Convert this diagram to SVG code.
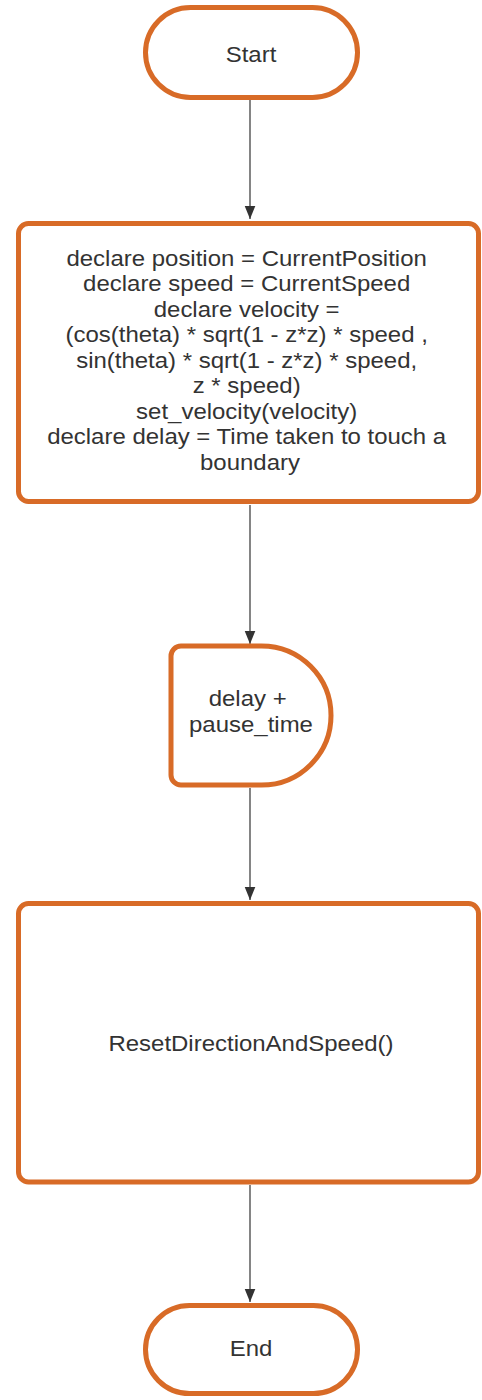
<svg xmlns="http://www.w3.org/2000/svg" width="482" height="1400" viewBox="0 0 482 1400">
  <style>
    .shape { fill: #ffffff; stroke: #d86b27; stroke-width: 5; }
    .label { font-family: "Liberation Sans", Arial, sans-serif; font-size: 22px; fill: #333333; text-anchor: middle; }
    .flow { stroke: #333333; stroke-width: 1.2; fill: none; marker-end: url(#arrow); }
  </style>
  <defs>
    <!-- filled arrowhead, tip at the line end -->
    <marker id="arrow" markerUnits="userSpaceOnUse" markerWidth="13" markerHeight="17" refX="16" refY="6.5" orient="auto" viewBox="0 0 16 13">
      <path d="M0,0 L16,6.5 L0,13 Z" fill="#333333"/>
    </marker>
  </defs>
  <rect width="482" height="1400" fill="#ffffff"/>

  <!-- connectors -->
  <g id="connectors">
    <line class="flow" x1="250" y1="100" x2="250" y2="219"/>
    <line class="flow" x1="250" y1="505" x2="250" y2="644"/>
    <line class="flow" x1="250" y1="788" x2="250" y2="900"/>
    <line class="flow" x1="250" y1="1185" x2="250" y2="1302"/>
  </g>

  <!-- terminal: Start -->
  <g id="start">
    <rect class="shape" x="145.5" y="7.5" width="212" height="90" rx="45" ry="45"/>
    <text class="label" transform="translate(251,0) scale(1.09,1) translate(-251,0)" x="251" y="62">Start</text>
  </g>

  <!-- process: compute velocity and delay -->
  <g id="process-velocity">
    <rect class="shape" x="18.5" y="223.5" width="460" height="278" rx="10" ry="10"/>
    <text class="label" transform="translate(250,0) scale(1.09,1) translate(-250,0)">
      <tspan x="250" y="266">declare position = CurrentPosition</tspan>
      <tspan x="250" y="291.5">declare speed = CurrentSpeed</tspan>
      <tspan x="250" y="317">declare velocity =</tspan>
      <tspan x="250" y="342.5">(cos(theta) * sqrt(1 - z*z) * speed ,</tspan>
      <tspan x="250" y="368">sin(theta) * sqrt(1 - z*z) * speed,</tspan>
      <tspan x="250" y="393.5">z * speed)</tspan>
      <tspan x="250" y="419">set_velocity(velocity)</tspan>
      <tspan x="250" y="444.5">declare delay = Time taken to touch a</tspan>
      <tspan x="250" y="470">boundary</tspan>
    </text>
  </g>

  <!-- delay shape -->
  <g id="delay">
    <path class="shape" d="M181,646 L261.5,646 A69.5,69.5 0 0 1 261.5,785 L181,785 A10,10 0 0 1 171,775 L171,656 A10,10 0 0 1 181,646 Z"/>
    <text class="label" transform="translate(251,0) scale(1.09,1) translate(-251,0)">
      <tspan x="251" y="706">delay +</tspan>
      <tspan x="251" y="732">pause_time</tspan>
    </text>
  </g>

  <!-- process: reset -->
  <g id="process-reset">
    <rect class="shape" x="18.5" y="903.5" width="460" height="278.5" rx="10" ry="10"/>
    <text class="label" transform="translate(251,0) scale(1.09,1) translate(-251,0)" x="251" y="1051">ResetDirectionAndSpeed()</text>
  </g>

  <!-- terminal: End -->
  <g id="end">
    <rect class="shape" x="145.5" y="1305.5" width="212" height="88" rx="44" ry="44"/>
    <text class="label" transform="translate(251,0) scale(1.09,1) translate(-251,0)" x="251" y="1356">End</text>
  </g>
</svg>
